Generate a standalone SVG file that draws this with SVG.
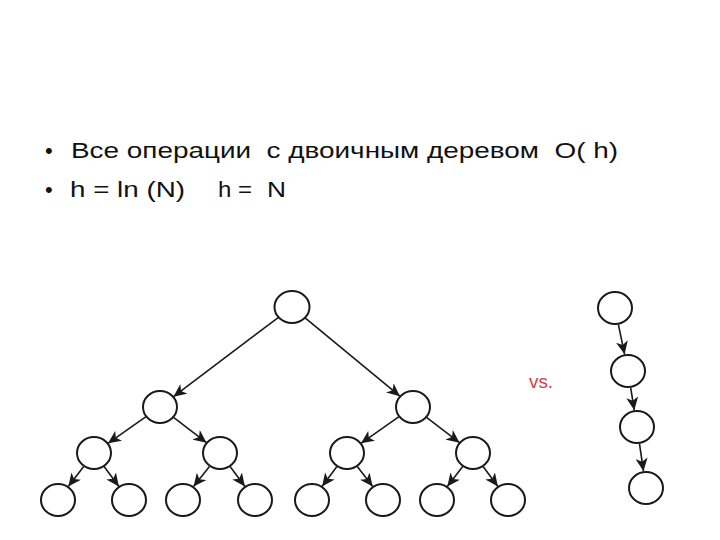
<svg xmlns="http://www.w3.org/2000/svg" width="720" height="540" viewBox="0 0 720 540">
<style>
.t{font-family:"Liberation Sans",Arial,sans-serif;font-size:22px;fill:#111}
.n{fill:#fff;stroke:#1a1a1a;stroke-width:2}
.e{stroke:#1a1a1a;stroke-width:1.6;fill:none;marker-end:url(#ah)}
.vs{font-family:"Liberation Sans",Arial,sans-serif;font-size:18px;fill:#d0404a}
</style>
<defs>
<marker id="ah" markerUnits="userSpaceOnUse" markerWidth="14" markerHeight="12" refX="13" refY="6" orient="auto">
<path d="M0,0 L13,6 L0,12 L3.5,6 z" fill="#1a1a1a"/>
</marker>
</defs>
<rect width="720" height="540" fill="#fff"/>
<g id="text">
<text class="t" x="45" y="158">•</text>
<text class="t" x="71" y="158" textLength="547" lengthAdjust="spacingAndGlyphs" xml:space="preserve">Все операции  с двоичным деревом  O( h)</text>
<text class="t" x="45" y="197">•</text>
<text class="t" x="70" y="197" textLength="115" lengthAdjust="spacingAndGlyphs">h = ln (N)</text>
<text class="t" x="218" y="197" textLength="34" lengthAdjust="spacingAndGlyphs">h =</text>
<text class="t" x="267" y="197" textLength="19" lengthAdjust="spacingAndGlyphs">N</text>
<text class="vs" x="529" y="388" textLength="24" lengthAdjust="spacingAndGlyphs">vs.</text>
</g>
<g id="connectors">
<line class="e" x1="278.5" y1="317.3" x2="173.5" y2="396.7"/>
<line class="e" x1="305.1" y1="317.8" x2="399.9" y2="396.2"/>
<line class="e" x1="146" y1="416.7" x2="108" y2="443.3"/>
<line class="e" x1="173.5" y1="417.3" x2="206.5" y2="442.7"/>
<line class="e" x1="399" y1="416.7" x2="361" y2="443.3"/>
<line class="e" x1="426.5" y1="417.3" x2="459.5" y2="442.7"/>
<line class="e" x1="83.7" y1="466.5" x2="68.3" y2="486.5"/>
<line class="e" x1="104.1" y1="466.6" x2="118.9" y2="486.4"/>
<line class="e" x1="209.5" y1="466.4" x2="193.5" y2="486.6"/>
<line class="e" x1="230.1" y1="466.6" x2="244.9" y2="486.4"/>
<line class="e" x1="336.9" y1="466.6" x2="322.1" y2="486.4"/>
<line class="e" x1="357.3" y1="466.5" x2="372.7" y2="486.5"/>
<line class="e" x1="462.7" y1="466.5" x2="447.3" y2="486.5"/>
<line class="e" x1="483.1" y1="466.6" x2="497.9" y2="486.4"/>
<line class="e" x1="618.4" y1="324.7" x2="624.6" y2="354.3"/>
<line class="e" x1="630.7" y1="387.8" x2="634.3" y2="410.2"/>
<line class="e" x1="639.5" y1="443.8" x2="643.5" y2="471.2"/>
</g>
<g id="n_root"><ellipse class="n" cx="292" cy="307" rx="17.5" ry="16"/></g>
<g id="n_l"><ellipse class="n" cx="160" cy="407" rx="17" ry="16"/></g>
<g id="n_r"><ellipse class="n" cx="413" cy="407" rx="17" ry="16"/></g>
<g id="n_ll"><ellipse class="n" cx="94" cy="453" rx="17" ry="16"/></g>
<g id="n_lr"><ellipse class="n" cx="220" cy="453" rx="17" ry="16"/></g>
<g id="n_rl"><ellipse class="n" cx="347" cy="453" rx="17" ry="16"/></g>
<g id="n_rr"><ellipse class="n" cx="473" cy="453" rx="17" ry="16"/></g>
<g id="n_lll"><ellipse class="n" cx="58" cy="500" rx="17" ry="16"/></g>
<g id="n_llr"><ellipse class="n" cx="129" cy="500" rx="17" ry="16"/></g>
<g id="n_lrl"><ellipse class="n" cx="183" cy="500" rx="17" ry="16"/></g>
<g id="n_lrr"><ellipse class="n" cx="255" cy="500" rx="17" ry="16"/></g>
<g id="n_rll"><ellipse class="n" cx="312" cy="500" rx="17" ry="16"/></g>
<g id="n_rlr"><ellipse class="n" cx="383" cy="500" rx="17" ry="16"/></g>
<g id="n_rrl"><ellipse class="n" cx="437" cy="500" rx="17" ry="16"/></g>
<g id="n_rrr"><ellipse class="n" cx="508" cy="500" rx="17" ry="16"/></g>
<g id="c1"><ellipse class="n" cx="615" cy="308" rx="17" ry="16"/></g>
<g id="c2"><ellipse class="n" cx="628" cy="371" rx="17" ry="16"/></g>
<g id="c3"><ellipse class="n" cx="637" cy="427" rx="17" ry="16"/></g>
<g id="c4"><ellipse class="n" cx="646" cy="488" rx="17" ry="16"/></g>
</svg>
